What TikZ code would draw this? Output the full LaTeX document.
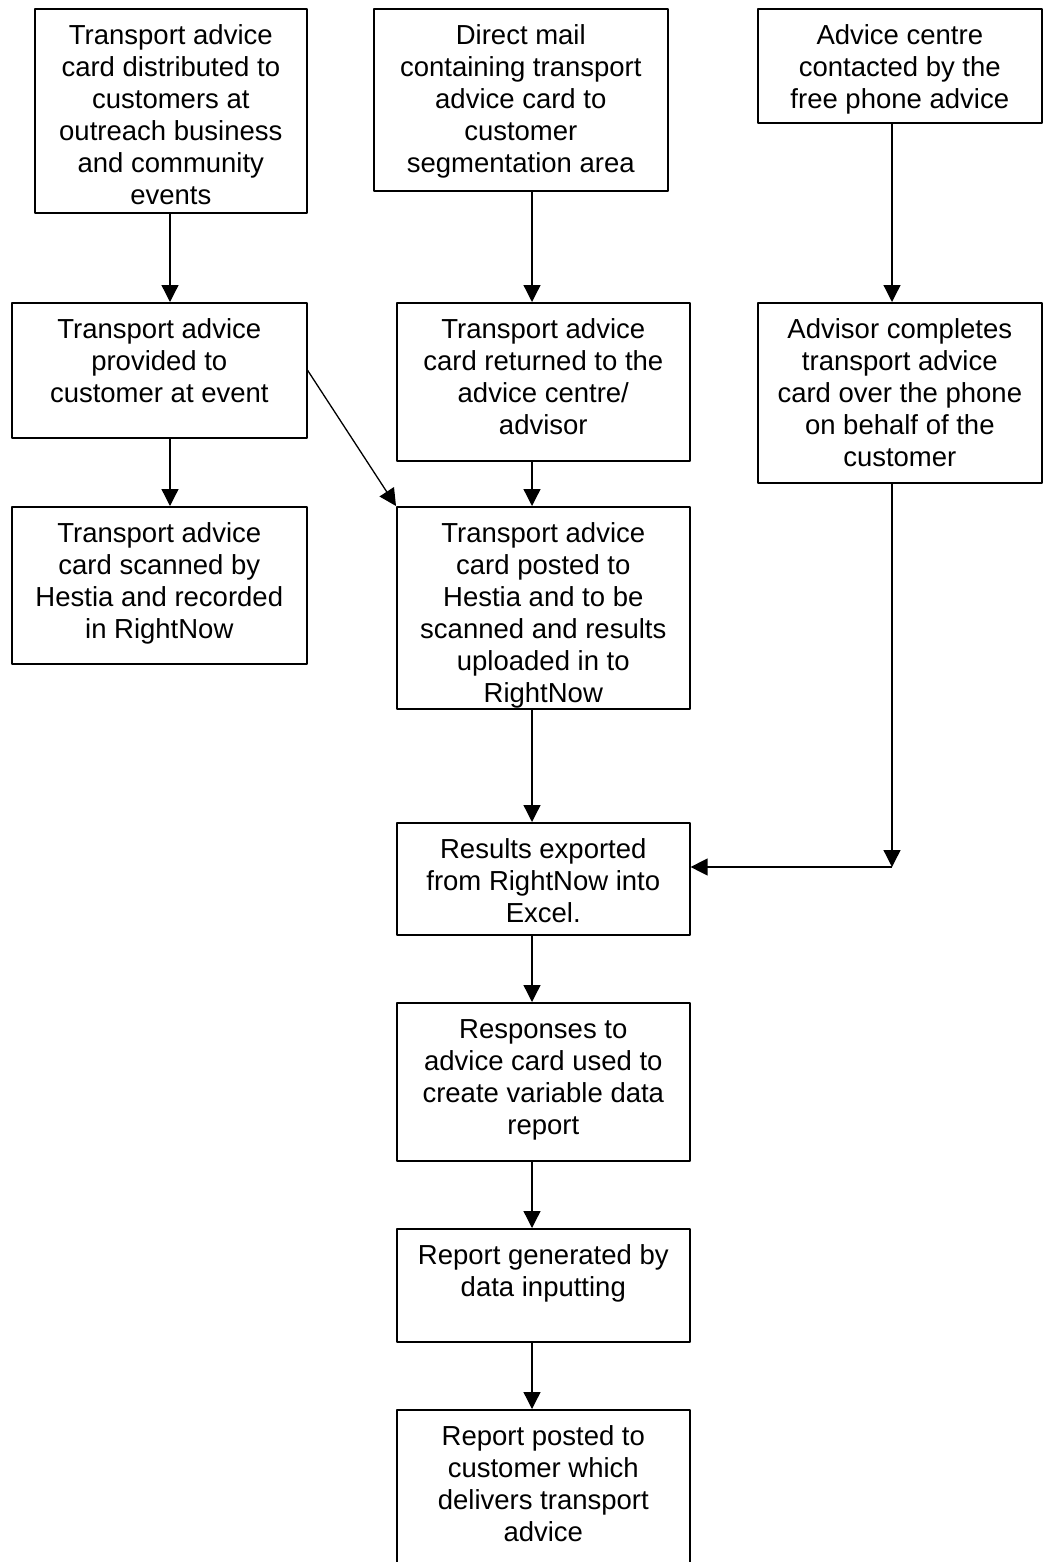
\documentclass[tikz,border=0pt]{standalone}
\usepackage{fontspec}
\setmainfont{Liberation Sans}
\usetikzlibrary{arrows.meta}
\newcommand{\card}[3]{\parbox[t][#2pt][t]{#1pt}{\centering\rule{0pt}{36pt}#3}}
\begin{document}
\begin{tikzpicture}[x=1pt,y=-1pt,>={Triangle[length=17pt,width=17pt]},line join=round,
  box/.style={draw,line width=1.6pt,inner sep=0pt,anchor=north west,font=\fontsize{27.5}{32}\selectfont},
  arr/.style={->,line width=1.3pt}]
\path[use as bounding box,fill=white] (0,0) rectangle (1042,1562);
\coordinate (colA) at (170,0); \coordinate (colB) at (532,0); \coordinate (colC) at (892,0);
\coordinate (jn) at (892,867);
% top row
\node[box] (ev) at (34,8) {\card{272}{204}{Transport advice\\card distributed to\\customers at\\outreach business\\and community\\events}};
\node[box] (mail) at (373,8) {\card{294}{182}{Direct mail\\containing transport\\advice card to\\customer\\segmentation area}};
\node[box] (phone) at (757,8) {\card{284}{114}{Advice centre\\contacted by the\\free phone advice}};
% second row
\node[box] (event) at (11,302) {\card{295}{135}{Transport advice\\provided to\\customer at event}};
\node[box] (ret) at (396,302) {\card{293}{158}{Transport advice\\card returned to the\\advice centre/\\advisor}};
\node[box] (advisor) at (757,302) {\card{284}{180}{Advisor completes\\transport advice\\card over the phone\\on behalf of the\\customer}};
% third row
\node[box] (scan) at (11,506) {\card{295}{157}{Transport advice\\card scanned by\\Hestia and recorded\\in RightNow}};
\node[box] (post) at (396,506) {\card{293}{202}{Transport advice\\card posted to\\Hestia and to be\\scanned and results\\uploaded in to\\RightNow}};
% main column
\node[box] (res) at (396,822) {\card{293}{112}{Results exported\\from RightNow into\\Excel.}};
\node[box] (resp) at (396,1002) {\card{293}{158}{Responses to\\advice card used to\\create variable data\\report}};
\node[box] (rep) at (396,1228) {\card{293}{113}{Report generated by\\data inputting}};
\node[box] (final) at (396,1409) {\card{293}{160}{Report posted to\\customer which\\delivers transport\\advice}};
% arrows
\draw[arr] (ev.south -| colA) -- (event.north -| colA);
\draw[arr] (event.south -| colA) -- (scan.north -| colA);
\draw[arr] (event.east) -- (post.north west);
\draw[arr] (mail.south -| colB) -- (ret.north -| colB);
\draw[arr] (ret.south -| colB) -- (post.north -| colB);
\draw[arr] (post.south -| colB) -- (res.north -| colB);
\draw[arr] (res.south -| colB) -- (resp.north -| colB);
\draw[arr] (resp.south -| colB) -- (rep.north -| colB);
\draw[arr] (rep.south -| colB) -- (final.north -| colB);
\draw[arr] (phone.south -| colC) -- (advisor.north -| colC);
\draw[arr] (advisor.south -| colC) -- (jn);
\draw[arr] (jn) -- (jn -| res.east);
\end{tikzpicture}
\end{document}
